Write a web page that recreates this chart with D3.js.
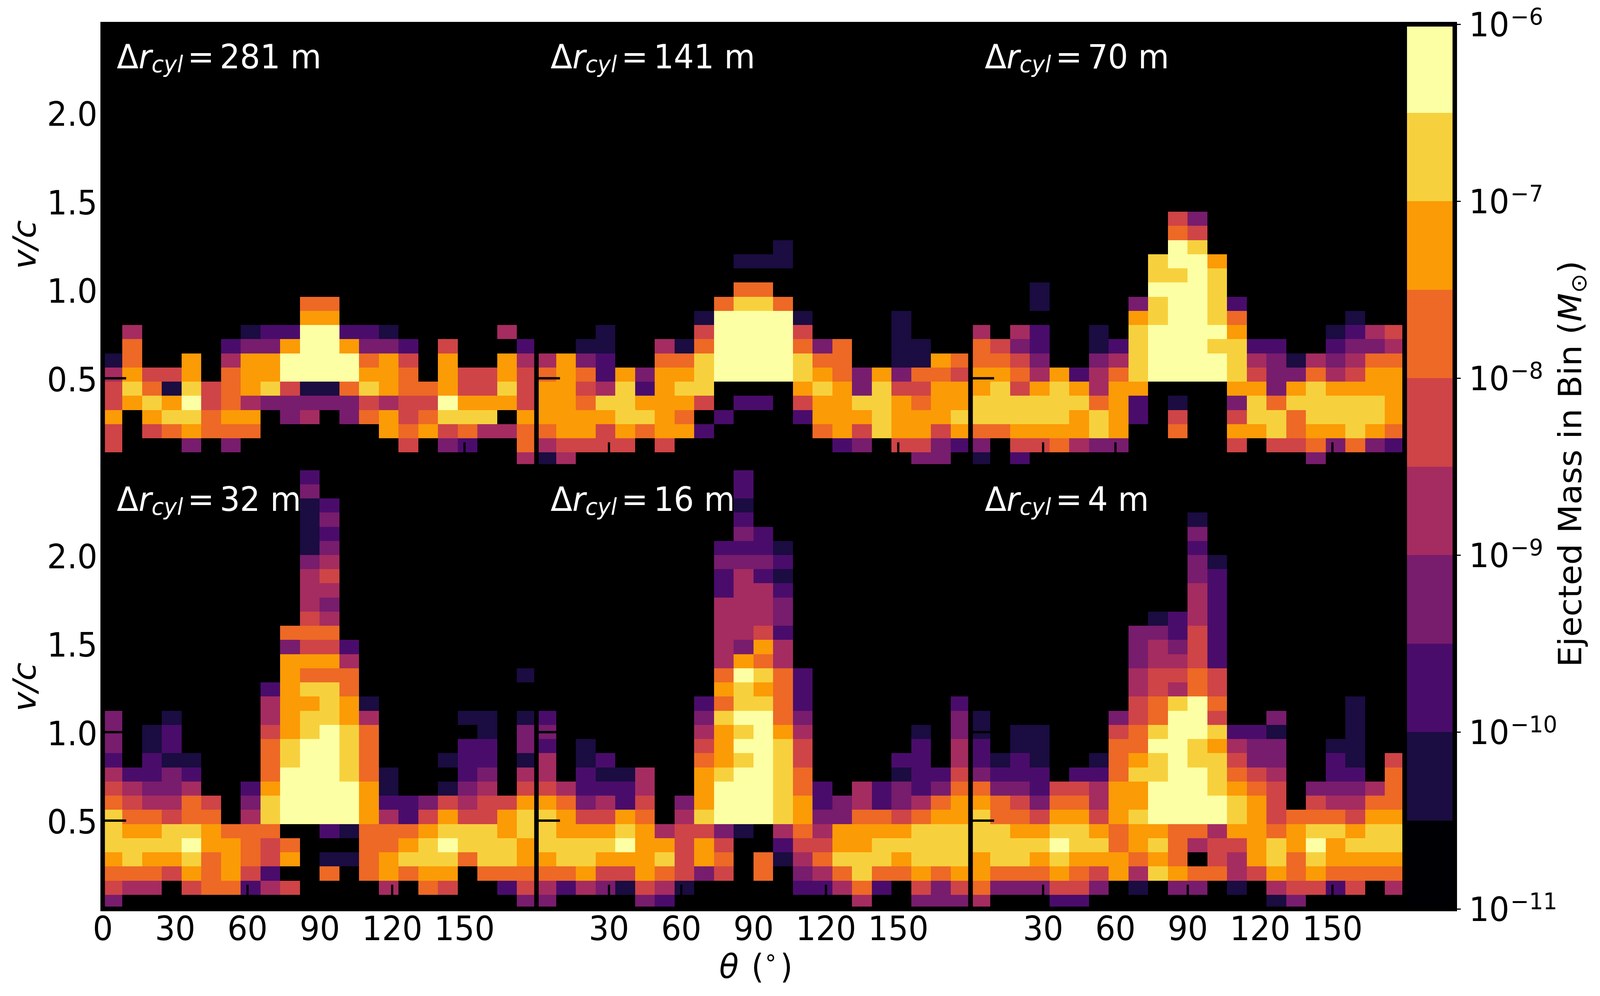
<!DOCTYPE html>
<html>
<head>
<meta charset="utf-8">
<script src="https://cdn.jsdelivr.net/npm/d3@7"></script>
<style>
  html, body { margin: 0; padding: 0; background: #fff; overflow: hidden; }
  text { font-family: "DejaVu Sans"; }
</style>
</head>
<body>
<div id="chart"></div>
<script>
// Colour band of each cell (0 = lowest band, 9 = highest), one row per v/c bin,
// bottom row first, 22 theta bins per row. Band n covers 10^(-11 + n/2) .. 10^(-11 + (n+1)/2)
const bands281 = [
  [0,0,0,0,0,0,0,0,0,0,0,0,0,0,0,0,0,0,0,0,0,4],
  [5,0,0,0,3,0,3,0,0,0,0,0,0,0,0,5,0,3,2,0,0,6],
  [5,0,5,6,7,6,6,6,0,0,0,0,0,0,7,6,7,5,6,4,4,6],
  [7,0,7,8,8,6,7,7,0,3,4,0,3,6,7,5,6,8,8,8,0,7],
  [5,7,8,7,9,5,6,4,3,3,3,3,3,5,4,5,5,9,7,7,7,5],
  [5,8,6,1,8,5,6,7,8,5,1,1,6,8,7,6,6,7,5,5,8,5],
  [4,7,5,5,7,0,6,7,7,9,9,9,9,7,7,6,0,7,5,5,7,5],
  [1,6,0,0,7,0,4,7,7,9,9,9,9,6,7,5,0,7,0,0,7,4],
  [0,6,0,0,0,0,2,3,3,7,9,9,7,3,3,2,0,5,0,0,0,2],
  [0,4,0,0,0,0,0,1,2,2,9,9,2,2,1,0,0,0,0,0,4,0],
  [0,0,0,0,0,0,0,0,0,0,7,7,0,0,0,0,0,0,0,0,0,0],
  [0,0,0,0,0,0,0,0,0,0,6,6,0,0,0,0,0,0,0,0,0,0]
];
const bands141 = [
  [1,4,0,0,0,0,0,0,0,0,0,0,0,0,0,0,0,0,0,3,3,0],
  [4,5,5,5,5,0,5,0,0,0,0,0,0,0,0,2,3,0,5,5,3,2],
  [6,7,7,5,7,6,7,7,2,0,0,0,0,0,6,7,5,8,7,7,5,7],
  [7,7,7,7,8,8,7,6,0,2,0,0,0,2,7,7,7,8,7,7,7,8],
  [7,7,6,8,8,7,7,7,5,0,2,2,0,5,7,7,8,8,7,6,7,7],
  [7,7,5,4,8,2,7,8,8,0,0,0,0,7,8,7,3,8,5,5,7,7],
  [6,7,6,2,7,3,7,7,8,9,9,9,9,8,7,6,3,7,3,6,6,5],
  [4,7,3,2,0,0,6,6,8,9,9,9,9,8,6,6,0,0,1,1,7,6],
  [0,0,1,1,0,0,4,1,6,9,9,9,9,6,3,6,0,0,1,1,0,0],
  [0,0,0,1,0,0,0,0,5,9,9,9,9,5,0,0,0,0,1,0,0,0],
  [0,0,0,0,0,0,0,0,1,9,9,9,9,1,0,0,0,0,1,0,0,0],
  [0,0,0,0,0,0,0,0,0,6,8,8,6,0,0,0,0,0,0,0,0,0],
  [0,0,0,0,0,0,0,0,0,0,6,6,0,0,0,0,0,0,0,0,0,0],
  [0,0,0,0,0,0,0,0,0,0,0,0,0,0,0,0,0,0,0,0,0,0],
  [0,0,0,0,0,0,0,0,0,0,1,1,1,0,0,0,0,0,0,0,0,0],
  [0,0,0,0,0,0,0,0,0,0,0,0,1,0,0,0,0,0,0,0,0,0]
];
const bands70 = [
  [1,0,2,0,0,0,0,0,0,0,0,0,0,0,0,0,0,3,0,0,0,0],
  [3,0,5,5,6,4,3,3,0,0,0,0,0,5,0,5,5,6,3,6,3,2],
  [6,6,7,7,7,7,8,7,0,0,6,0,0,7,7,8,6,7,7,8,7,6],
  [8,8,8,8,8,7,8,7,2,0,5,0,0,5,8,8,6,8,8,8,8,7],
  [8,8,8,8,8,8,6,7,2,0,1,0,0,3,8,6,8,8,8,8,8,7],
  [7,8,5,7,8,7,4,7,7,0,0,0,0,7,7,3,7,8,7,7,7,7],
  [7,7,6,4,7,2,4,6,8,9,9,9,9,8,5,3,3,6,4,5,7,7],
  [6,6,5,3,0,0,3,4,8,9,9,9,9,8,4,3,1,4,3,4,6,6],
  [6,5,3,2,0,0,1,2,8,9,9,9,8,8,2,2,0,0,2,3,3,4],
  [4,0,4,2,0,0,1,0,8,9,9,9,9,7,0,0,0,0,1,2,4,5],
  [0,0,0,0,0,0,0,0,7,8,9,9,8,6,0,0,0,0,0,1,0,0],
  [0,0,0,1,0,0,0,0,3,8,9,9,8,2,0,0,0,0,0,0,0,0],
  [0,0,0,1,0,0,0,0,0,9,9,9,8,0,0,0,0,0,0,0,0,0],
  [0,0,0,0,0,0,0,0,0,8,8,9,8,0,0,0,0,0,0,0,0,0],
  [0,0,0,0,0,0,0,0,0,8,9,9,7,0,0,0,0,0,0,0,0,0],
  [0,0,0,0,0,0,0,0,0,0,9,8,0,0,0,0,0,0,0,0,0,0],
  [0,0,0,0,0,0,0,0,0,0,6,5,0,0,0,0,0,0,0,0,0,0],
  [0,0,0,0,0,0,0,0,0,0,5,3,0,0,0,0,0,0,0,0,0,0]
];
const bands32 = [
  [3,0,0,0,0,0,0,0,0,0,0,0,0,0,0,0,0,0,0,0,0,3],
  [5,4,4,0,5,6,6,2,4,5,0,0,0,0,4,0,6,5,0,0,2,5],
  [6,6,6,5,7,6,7,5,2,0,0,6,0,6,7,6,7,7,0,6,6,6],
  [7,8,7,7,8,6,7,6,5,7,0,1,1,6,7,8,8,8,6,8,8,7],
  [8,8,8,8,9,7,7,6,5,6,0,0,0,6,6,7,8,9,8,8,8,7],
  [8,7,7,8,8,7,6,6,6,0,0,2,1,6,6,6,7,8,8,8,7,8],
  [8,6,6,5,6,6,0,4,8,9,9,9,9,7,4,2,5,7,5,5,7,8],
  [6,5,4,4,6,5,0,3,8,9,9,9,9,7,2,2,3,5,4,5,5,7],
  [5,4,3,3,4,0,0,2,7,9,9,9,9,7,1,0,0,1,3,4,0,5],
  [4,2,2,3,2,0,0,0,6,9,9,9,8,6,1,0,0,0,2,3,0,4],
  [2,0,2,1,1,0,0,0,6,8,9,9,8,6,0,0,0,1,2,2,0,1],
  [3,0,1,2,0,0,0,0,6,8,9,9,8,6,0,0,0,0,2,2,0,3],
  [3,0,1,2,0,0,0,0,5,7,8,9,8,6,0,0,0,0,0,1,0,3],
  [3,0,0,1,0,0,0,0,4,7,8,8,7,4,0,0,0,0,1,1,0,1],
  [0,0,0,0,0,0,0,0,4,7,7,8,7,1,0,0,0,0,0,0,0,0],
  [0,0,0,0,0,0,0,0,2,7,8,8,6,0,0,0,0,0,0,0,0,0],
  [0,0,0,0,0,0,0,0,0,7,6,6,6,0,0,0,0,0,0,0,0,1],
  [0,0,0,0,0,0,0,0,0,7,7,7,4,0,0,0,0,0,0,0,0,0],
  [0,0,0,0,0,0,0,0,0,3,5,5,2,0,0,0,0,0,0,0,0,0],
  [0,0,0,0,0,0,0,0,0,6,6,6,0,0,0,0,0,0,0,0,0,0],
  [0,0,0,0,0,0,0,0,0,0,5,4,0,0,0,0,0,0,0,0,0,0],
  [0,0,0,0,0,0,0,0,0,0,4,3,0,0,0,0,0,0,0,0,0,0],
  [0,0,0,0,0,0,0,0,0,0,4,4,0,0,0,0,0,0,0,0,0,0],
  [0,0,0,0,0,0,0,0,0,0,4,5,0,0,0,0,0,0,0,0,0,0],
  [0,0,0,0,0,0,0,0,0,0,3,4,0,0,0,0,0,0,0,0,0,0],
  [0,0,0,0,0,0,0,0,0,0,1,3,0,0,0,0,0,0,0,0,0,0],
  [0,0,0,0,0,0,0,0,0,0,1,2,0,0,0,0,0,0,0,0,0,0],
  [0,0,0,0,0,0,0,0,0,0,1,3,0,0,0,0,0,0,0,0,0,0],
  [0,0,0,0,0,0,0,0,0,0,1,2,0,0,0,0,0,0,0,0,0,0],
  [0,0,0,0,0,0,0,0,0,0,3,0,0,0,0,0,0,0,0,0,0,0],
  [0,0,0,0,0,0,0,0,0,0,2,0,0,0,0,0,0,0,0,0,0,0]
];
const bands16 = [
  [3,0,0,0,0,3,2,0,0,0,0,0,0,0,0,0,4,0,0,3,3,3],
  [4,2,4,3,1,5,4,1,0,0,0,0,0,2,2,4,6,2,0,5,3,5],
  [6,6,7,5,5,7,6,5,3,5,0,6,0,3,4,6,8,6,6,7,6,7],
  [7,8,8,7,7,7,8,5,7,6,0,6,1,4,6,8,8,8,7,8,8,8],
  [8,8,8,8,9,7,7,5,7,5,0,0,2,5,5,7,7,8,8,8,8,8],
  [8,7,7,7,8,7,4,5,5,3,1,0,4,6,4,7,7,7,7,8,8,8],
  [8,7,5,5,7,6,0,4,8,9,9,9,8,7,3,3,6,6,5,6,7,7],
  [7,6,3,4,2,5,0,3,7,9,9,9,8,7,2,3,4,2,3,4,6,7],
  [5,4,2,2,2,4,0,0,7,9,9,9,8,6,2,0,4,2,3,2,3,6],
  [4,0,2,1,1,4,0,0,7,8,9,9,8,6,0,0,0,0,1,2,2,5],
  [4,0,1,2,0,0,0,0,6,7,8,9,8,5,0,0,0,0,2,2,0,4],
  [2,0,1,0,0,0,0,0,5,7,9,9,8,5,0,0,0,0,0,2,0,4],
  [3,0,0,0,0,0,0,0,4,7,8,9,7,4,0,0,0,0,0,1,0,3],
  [2,0,0,0,0,0,0,0,3,8,9,9,6,3,0,0,0,0,0,0,0,3],
  [0,0,0,0,0,0,0,0,2,6,8,8,6,2,0,0,0,0,0,0,0,2],
  [0,0,0,0,0,0,0,0,0,7,8,7,6,2,0,0,0,0,0,0,0,0],
  [0,0,0,0,0,0,0,0,0,6,9,8,6,2,0,0,0,0,0,0,0,0],
  [0,0,0,0,0,0,0,0,0,4,7,6,4,0,0,0,0,0,0,0,0,0],
  [0,0,0,0,0,0,0,0,0,4,3,7,4,0,0,0,0,0,0,0,0,0],
  [0,0,0,0,0,0,0,0,0,4,4,5,2,0,0,0,0,0,0,0,0,0],
  [0,0,0,0,0,0,0,0,0,4,4,4,3,0,0,0,0,0,0,0,0,0],
  [0,0,0,0,0,0,0,0,0,4,4,4,3,0,0,0,0,0,0,0,0,0],
  [0,0,0,0,0,0,0,0,0,2,4,4,2,0,0,0,0,0,0,0,0,0],
  [0,0,0,0,0,0,0,0,0,2,4,2,1,0,0,0,0,0,0,0,0,0],
  [0,0,0,0,0,0,0,0,0,3,3,3,2,0,0,0,0,0,0,0,0,0],
  [0,0,0,0,0,0,0,0,0,2,2,2,1,0,0,0,0,0,0,0,0,0],
  [0,0,0,0,0,0,0,0,0,0,3,2,0,0,0,0,0,0,0,0,0,0],
  [0,0,0,0,0,0,0,0,0,0,2,0,0,0,0,0,0,0,0,0,0,0],
  [0,0,0,0,0,0,0,0,0,0,1,0,0,0,0,0,0,0,0,0,0,0],
  [0,0,0,0,0,0,0,0,0,0,2,0,0,0,0,0,0,0,0,0,0,0],
  [0,0,0,0,0,0,0,0,0,0,2,0,0,0,0,0,0,0,0,0,0,0]
];
const bands4 = [
  [4,0,0,0,2,2,0,0,0,0,0,0,0,0,0,1,3,0,0,0,0,0],
  [6,3,3,3,5,5,3,0,1,0,3,3,0,1,0,4,5,5,2,5,0,4],
  [7,6,6,6,7,6,5,7,4,8,7,6,6,4,5,7,6,7,6,6,6,6],
  [7,8,8,7,8,7,7,7,6,7,6,0,5,4,7,8,6,8,7,7,7,7],
  [8,8,8,8,9,8,8,6,7,8,6,4,5,5,7,8,7,9,7,8,8,8],
  [8,8,7,7,8,8,7,6,7,7,6,6,4,7,7,6,7,8,8,7,8,8],
  [8,6,6,5,7,7,5,7,8,9,9,9,9,8,7,5,6,6,6,5,7,7],
  [7,6,5,3,6,6,4,7,7,9,9,9,9,8,7,5,0,5,4,4,6,6],
  [6,3,3,2,5,5,4,7,7,9,9,9,8,7,6,5,0,3,3,3,4,6],
  [3,2,2,2,0,2,2,6,8,8,9,9,8,6,5,4,0,0,2,2,0,6],
  [2,1,2,1,0,0,1,6,7,8,9,8,8,5,3,3,0,0,2,1,0,5],
  [2,0,1,1,0,0,0,6,6,9,9,8,7,4,3,3,0,0,1,1,0,0],
  [1,0,1,1,0,0,0,5,6,8,9,9,8,2,2,1,0,0,0,1,0,0],
  [1,0,0,0,0,0,0,3,5,6,9,9,5,0,0,3,0,0,0,1,0,0],
  [0,0,0,0,0,0,0,0,5,6,8,9,6,0,0,0,0,0,0,1,0,0],
  [0,0,0,0,0,0,0,0,4,5,4,6,5,0,0,0,0,0,0,0,0,0],
  [0,0,0,0,0,0,0,0,4,5,5,6,5,0,0,0,0,0,0,0,0,0],
  [0,0,0,0,0,0,0,0,3,4,4,5,2,0,0,0,0,0,0,0,0,0],
  [0,0,0,0,0,0,0,0,3,4,3,5,2,0,0,0,0,0,0,0,0,0],
  [0,0,0,0,0,0,0,0,3,3,2,5,2,0,0,0,0,0,0,0,0,0],
  [0,0,0,0,0,0,0,0,0,1,2,4,2,0,0,0,0,0,0,0,0,0],
  [0,0,0,0,0,0,0,0,0,0,0,4,2,0,0,0,0,0,0,0,0,0],
  [0,0,0,0,0,0,0,0,0,0,0,4,2,0,0,0,0,0,0,0,0,0],
  [0,0,0,0,0,0,0,0,0,0,0,3,2,0,0,0,0,0,0,0,0,0],
  [0,0,0,0,0,0,0,0,0,0,0,3,1,0,0,0,0,0,0,0,0,0],
  [0,0,0,0,0,0,0,0,0,0,0,2,0,0,0,0,0,0,0,0,0,0],
  [0,0,0,0,0,0,0,0,0,0,0,3,0,0,0,0,0,0,0,0,0,0],
  [0,0,0,0,0,0,0,0,0,0,0,1,0,0,0,0,0,0,0,0,0,0]
];

const panelBands = [bands281, bands141, bands70, bands32, bands16, bands4];
const panelLabels = ["281", "141", "70", "32", "16", "4"];
const thetaTicks = [0, 30, 60, 90, 120, 150];
const velocityTicks = [0.5, 1.0, 1.5, 2.0];
const massTicks = [1e-6, 1e-7, 1e-8, 1e-9, 1e-10, 1e-11];
const bandColors = ["#000004", "#1b0c41", "#4a0c6b", "#781c6d", "#a52c60",
                    "#cf4446", "#ed6925", "#fb9b06", "#f7d13d", "#fcffa4"];

const thetaBinCount = 22;
const thetaBinWidth = 180 / thetaBinCount;
const velocityBinWidth = 0.08;

const width = 4286;
const height = 2550;
const fontSize = 85;
const spineWidth = 12;

const panelLeft = [275, 1437, 2600];
const panelWidth = 1162.5;
const rowTop = [62, 1194.5];
const rowHeight = 1132.5;

// band index to mass at the middle of the band, then back through the threshold scale
const bandMass = b => Math.pow(10, -11 + (b + 0.5) / 2);
const massThresholds = d3.range(1, 10).map(i => Math.pow(10, -11 + i / 2));
const color = d3.scaleThreshold().domain(massThresholds).range(bandColors);

// The window can come out narrower than asked, so the drawing is fitted to whatever it got
const svg = d3.select("#chart").append("svg")
    .attr("width", window.innerWidth)
    .attr("height", window.innerHeight)
    .attr("viewBox", `0 0 ${width} ${height}`)
    .attr("preserveAspectRatio", "none")
    .style("display", "block");

svg.append("rect").attr("width", width).attr("height", height).attr("fill", "#fff");

function exponentLabel(sel, exp) {
    sel.text("");
    sel.append("tspan").text("10");
    sel.append("tspan")
        .attr("dx", 3)
        .attr("dy", -30)
        .attr("font-size", fontSize * 0.7)
        .text("\u2212" + exp);
}

function drawPanel(index) {
    const col = index % 3;
    const row = Math.floor(index / 3);
    const rows = panelBands[index];

    const x = d3.scaleLinear().domain([0, 180]).range([0, panelWidth]);
    const y = d3.scaleLinear().domain([0, 2.5]).range([rowHeight, 0]);

    const g = svg.append("g")
        .attr("transform", `translate(${panelLeft[col]},${rowTop[row]})`);

    g.append("rect")
        .attr("width", panelWidth)
        .attr("height", rowHeight)
        .attr("fill", "#000");

    const cells = [];
    rows.forEach((r, i) => r.forEach((b, j) => {
        if (b > 0) cells.push({ i: i, j: j, mass: bandMass(b) });
    }));

    g.append("g").selectAll("rect")
        .data(cells)
        .enter().append("rect")
        .attr("x", d => x(d.j * thetaBinWidth))
        .attr("y", d => y((d.i + 1) * velocityBinWidth))
        .attr("width", d => x((d.j + 1) * thetaBinWidth) - x(d.j * thetaBinWidth))
        .attr("height", d => y(d.i * velocityBinWidth) - y((d.i + 1) * velocityBinWidth))
        .attr("fill", d => color(d.mass))
        .attr("shape-rendering", "crispEdges");

    // Ticks point into the panel, labels only where the reference has them
    const xAxis = d3.axisBottom(x)
        .tickValues(col === 0 ? thetaTicks : thetaTicks.slice(1))
        .tickSizeInner(-62)
        .tickSizeOuter(0)
        .tickPadding(20);
    const yAxis = d3.axisLeft(y)
        .tickValues(velocityTicks)
        .tickFormat(d3.format(".1f"))
        .tickSizeInner(-63)
        .tickSizeOuter(0)
        .tickPadding(14);

    const gx = g.append("g").attr("transform", `translate(0,${rowHeight})`).call(xAxis);
    const gy = g.append("g").call(yAxis);

    [gx, gy].forEach(a => {
        a.select(".domain").remove();
        a.selectAll("line").attr("stroke", "#000").attr("stroke-width", 6);
        a.selectAll("text").attr("font-size", fontSize).attr("fill", "#000")
            .style("font-family", '"DejaVu Sans"');
    });
    gy.selectAll("text").attr("dy", "0.39em");
    if (row === 0) gx.selectAll("text").remove();
    if (col !== 0) gy.selectAll("text").remove();

    g.append("rect")
        .attr("width", panelWidth)
        .attr("height", rowHeight)
        .attr("fill", "none")
        .attr("stroke", "#000")
        .attr("stroke-width", spineWidth);

    // Resolution label
    const label = g.append("text")
        .attr("x", 38)
        .attr("y", 113.5)
        .attr("font-size", fontSize)
        .attr("fill", "#fff");
    label.append("tspan").text("\u0394");
    label.append("tspan").attr("font-style", "italic").text("r");
    label.append("tspan").attr("font-style", "italic").attr("font-size", fontSize * 0.7)
        .attr("dy", 10).text("cyl");
    label.append("tspan").attr("dy", -10).attr("dx", 12).text("=");
    label.append("tspan").attr("dx", 15).text(panelLabels[index] + " m");

    // v/c axis title on the left column
    if (col === 0) {
        g.append("text")
            .attr("transform", `translate(-180,${rowHeight / 2 - 2}) rotate(-90)`)
            .attr("text-anchor", "middle")
            .attr("font-size", fontSize)
            .attr("font-style", "italic")
            .attr("fill", "#000")
            .text("v/c");
    }
}

d3.range(6).forEach(drawPanel);

// Theta axis title
const thetaTitle = svg.append("text")
    .attr("x", 2025)
    .attr("y", 2504)
    .attr("text-anchor", "middle")
    .attr("font-size", fontSize)
    .attr("fill", "#000");
thetaTitle.append("tspan").attr("font-style", "italic").text("\u03b8");
thetaTitle.append("tspan").attr("dx", 34).text("(");
thetaTitle.append("tspan").attr("dy", -33).attr("font-size", fontSize * 0.7).text("\u2218");
thetaTitle.append("tspan").attr("dy", 33).attr("dx", 7).text(")");

// Colour bar
const cbLeft = 3763;
const cbWidth = 134;
const cbTop = rowTop[0];
const cbHeight = rowHeight * 2;

const cbScale = d3.scaleLog().domain([1e-11, 1e-6]).range([cbHeight, 0]);
const cb = svg.append("g").attr("transform", `translate(${cbLeft},${cbTop})`);

const cbEdges = [1e-11].concat(massThresholds, [1e-6]);
cb.append("g").selectAll("rect")
    .data(bandColors)
    .enter().append("rect")
    .attr("x", 0)
    .attr("width", cbWidth)
    .attr("y", (d, i) => cbScale(cbEdges[i + 1]))
    .attr("height", (d, i) => cbScale(cbEdges[i]) - cbScale(cbEdges[i + 1]))
    .attr("fill", d => d)
    .attr("shape-rendering", "crispEdges");

cb.append("rect")
    .attr("width", cbWidth)
    .attr("height", cbHeight)
    .attr("fill", "none")
    .attr("stroke", "#000")
    .attr("stroke-width", spineWidth);

const cbAxis = cb.append("g")
    .attr("transform", `translate(${cbWidth},0)`)
    .call(d3.axisRight(cbScale)
        .tickValues(massTicks)
        .tickFormat(d => String(Math.round(-Math.log10(d))))
        .tickSize(16)
        .tickPadding(22));
cbAxis.select(".domain").remove();
cbAxis.selectAll("line").attr("stroke", "#000").attr("stroke-width", 3);
cbAxis.selectAll("text")
    .attr("font-size", fontSize)
    .attr("fill", "#000")
    .attr("dy", "0.36em")
    .style("font-family", '"DejaVu Sans"')
    .each(function (d) {
        exponentLabel(d3.select(this), Math.round(-Math.log10(d)));
    });

const cbTitle = svg.append("text")
    .attr("transform", `translate(4236,${cbTop + cbHeight / 2 - 7}) rotate(-90)`)
    .attr("text-anchor", "middle")
    .attr("font-size", fontSize)
    .attr("fill", "#000");
cbTitle.append("tspan").text("Ejected Mass in Bin (");
cbTitle.append("tspan").attr("font-style", "italic").text("M");
cbTitle.append("tspan").attr("font-size", fontSize * 0.7).attr("dy", 13).text("\u2299");
cbTitle.append("tspan").attr("dy", -13).text(")");
</script>
</body>
</html>
